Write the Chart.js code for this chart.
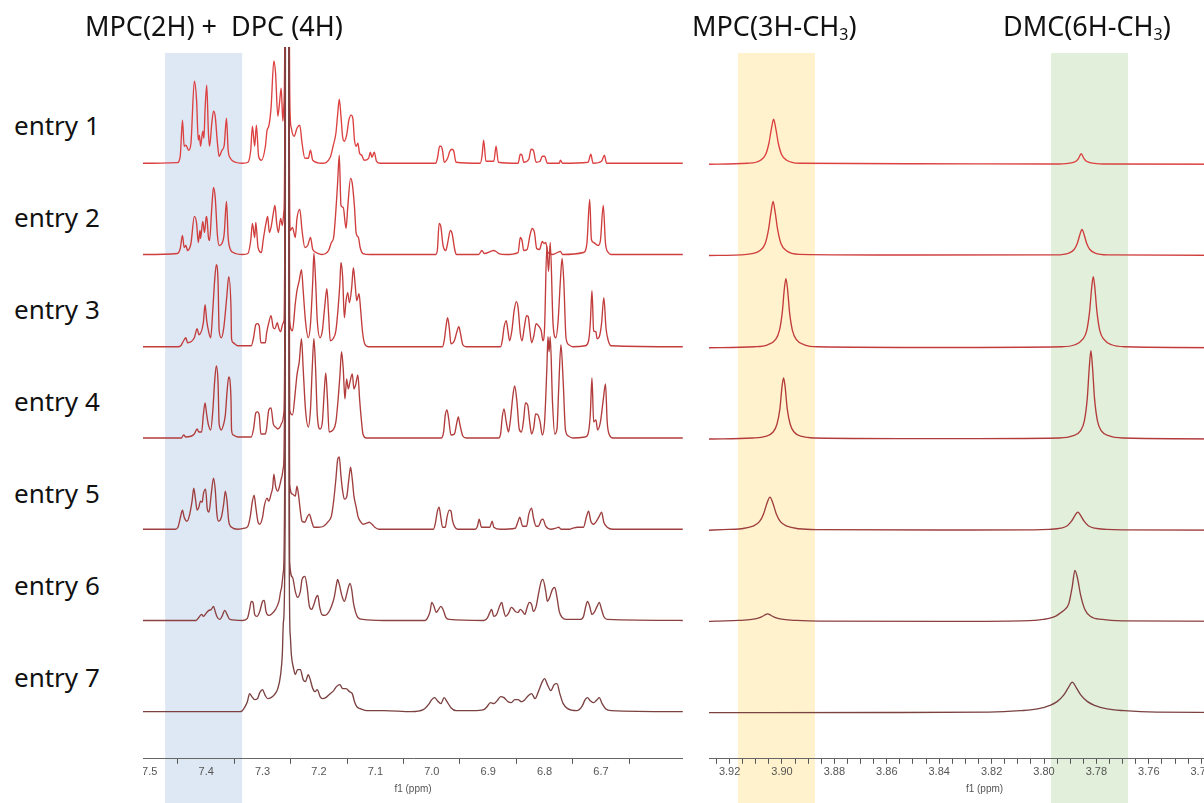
<!DOCTYPE html>
<html><head><meta charset="utf-8">
<script src="https://cdn.jsdelivr.net/npm/chart.js@4.4.1/dist/chart.umd.min.js"></script>
<style>
html,body{margin:0;padding:0;background:#fff;overflow:hidden;width:1204px;height:803px;}
.lbl{position:absolute;font-family:"Noto Sans",sans-serif;color:#111;white-space:nowrap;line-height:1;}
.ttl{font-size:27px;top:12px;}
.ent{font-size:26px;left:14px;}
.ttl sub{font-size:16px;vertical-align:-4px;line-height:0;}
#leftCanvas{position:absolute;left:143px;top:0;}
#rightCanvas{position:absolute;left:709px;top:0;}
</style></head>
<body>
<canvas id="leftCanvas" width="540" height="803"></canvas>
<canvas id="rightCanvas" width="551" height="803"></canvas>
<div class="lbl ttl" style="left:85px">MPC(2H) +&nbsp; DPC (4H)</div>
<div class="lbl ttl" style="left:692px">MPC(3H-CH<sub>3</sub>)</div>
<div class="lbl ttl" style="left:1003px">DMC(6H-CH<sub>3</sub>)</div>
<div class="lbl ent" style="top:112px">entry 1</div>
<div class="lbl ent" style="top:204px">entry 2</div>
<div class="lbl ent" style="top:296px">entry 3</div>
<div class="lbl ent" style="top:388px">entry 4</div>
<div class="lbl ent" style="top:480px">entry 5</div>
<div class="lbl ent" style="top:572px">entry 6</div>
<div class="lbl ent" style="top:664px">entry 7</div>
<script>
// ---------- DATA (ppm, intensity) ----------
const entryNames = ['entry 1','entry 2','entry 3','entry 4','entry 5','entry 6','entry 7'];

// aromatic region 7.51 - 6.55 ppm
const aromatic1 = [[7.512,0],[7.451,0.7],[7.446,7],[7.442,43],[7.439,17],[7.436,18],[7.431,13],[7.427,20],[7.421,82],[7.417,63],[7.414,23],[7.412,28],[7.410,17],[7.406,32],[7.404,25],[7.402,53],[7.399,78],[7.396,30],[7.394,17],[7.390,40],[7.387,52],[7.384,47],[7.380,20],[7.377,7],[7.372,13],[7.368,18],[7.364,45],[7.361,13],[7.357,5],[7.352,2],[7.335,0],[7.326,1],[7.321,13],[7.318,37],[7.314,17],[7.311,38],[7.307,7],[7.302,3],[7.295,17],[7.292,33],[7.289,37],[7.285,55],[7.280,102],[7.277,90],[7.273,47],[7.270,60],[7.267,75],[7.264,42],[7.262,60],[7.260,250],[7.2565,6000],[7.253,250],[7.251,47],[7.249,35],[7.244,27],[7.239,35],[7.234,38],[7.230,20],[7.225,5],[7.219,5],[7.215,13],[7.211,3],[7.195,0],[7.180,6],[7.175,17],[7.170,30],[7.167,48],[7.164,64],[7.161,47],[7.158,26],[7.155,22],[7.151,28],[7.147,43],[7.143,48],[7.140,45],[7.137,23],[7.134,17],[7.131,20],[7.128,10],[7.124,8],[7.120,3],[7.112,5],[7.109,11],[7.106,6],[7.102,11],[7.098,2],[7.091,0],[6.993,0],[6.990,5],[6.986,17],[6.984,17],[6.981,13],[6.978,1],[6.972,5],[6.968,12],[6.964,14],[6.961,12],[6.957,1],[6.914,0],[6.911,7],[6.908,23],[6.904,2],[6.890,2],[6.886,17],[6.882,1],[6.847,0],[6.843,9],[6.840,8],[6.837,1],[6.828,4],[6.824,14],[6.820,13],[6.815,1],[6.808,2],[6.804,7],[6.800,7],[6.795,0],[6.774,0],[6.772,3],[6.768,0],[6.723,1],[6.718,9],[6.714,0],[6.699,2],[6.694,8],[6.690,0],[6.555,0]];
const aromatic2 = [[7.512,0],[7.451,1],[7.446,6],[7.442,19],[7.439,7],[7.436,9],[7.433,4],[7.427,11],[7.421,38],[7.417,31],[7.414,12],[7.411,24],[7.410,16],[7.406,33],[7.403,22],[7.400,37],[7.399,38],[7.396,17],[7.394,14],[7.390,47],[7.387,67],[7.384,57],[7.380,19],[7.377,9],[7.372,11],[7.368,21],[7.364,53],[7.361,17],[7.357,5],[7.352,2],[7.335,0],[7.326,1],[7.321,14],[7.318,31],[7.314,17],[7.312,32],[7.308,7],[7.302,2],[7.299,14],[7.294,31],[7.291,38],[7.288,22],[7.285,27],[7.281,41],[7.278,49],[7.275,31],[7.272,22],[7.268,36],[7.265,29],[7.262,44],[7.260,250],[7.2565,6000],[7.253,250],[7.251,24],[7.247,27],[7.242,17],[7.239,36],[7.234,45],[7.230,24],[7.225,7],[7.220,9],[7.215,17],[7.211,5],[7.201,1],[7.195,0],[7.183,4],[7.178,12],[7.174,17],[7.170,44],[7.167,71],[7.164,99],[7.161,49],[7.157,47],[7.152,26],[7.149,47],[7.144,76],[7.141,71],[7.137,47],[7.134,21],[7.130,17],[7.127,7],[7.122,1],[7.110,0],[6.993,0],[6.990,5],[6.987,31],[6.984,28],[6.980,9],[6.975,4],[6.972,11],[6.967,24],[6.964,21],[6.959,4],[6.956,0],[6.917,0],[6.911,4],[6.907,1],[6.890,4],[6.886,3],[6.881,1],[6.869,0],[6.847,2],[6.843,17],[6.840,14],[6.837,4],[6.831,5],[6.826,19],[6.822,26],[6.818,22],[6.814,6],[6.809,5],[6.804,13],[6.801,11],[6.798,12],[6.794,2],[6.786,0],[6.772,3],[6.768,0],[6.731,2],[6.725,11],[6.720,55],[6.717,15],[6.713,12],[6.705,9],[6.701,14],[6.696,49],[6.692,11],[6.687,2],[6.682,0],[6.555,0]];
const aromatic3 = [[7.512,0],[7.450,0],[7.445,1],[7.440,6],[7.436,9],[7.433,4],[7.421,9],[7.416,18],[7.413,12],[7.405,24],[7.402,42],[7.399,26],[7.396,16],[7.392,9],[7.388,39],[7.385,66],[7.382,82],[7.379,66],[7.377,16],[7.373,9],[7.369,18],[7.366,34],[7.363,53],[7.360,70],[7.356,39],[7.355,8],[7.352,4],[7.344,1],[7.320,1],[7.316,9],[7.312,22],[7.309,23],[7.306,21],[7.303,4],[7.295,4],[7.293,13],[7.289,24],[7.285,31],[7.281,19],[7.278,18],[7.274,24],[7.271,18],[7.268,15],[7.264,23],[7.262,26],[7.260,250],[7.2565,6000],[7.253,250],[7.252,26],[7.247,16],[7.242,43],[7.239,56],[7.235,66],[7.231,77],[7.228,56],[7.224,26],[7.219,9],[7.215,23],[7.211,66],[7.209,93],[7.206,66],[7.203,26],[7.198,9],[7.194,16],[7.190,39],[7.186,58],[7.183,33],[7.180,6],[7.175,8],[7.170,16],[7.166,39],[7.163,63],[7.161,84],[7.158,69],[7.155,29],[7.152,46],[7.149,54],[7.146,44],[7.142,59],[7.139,79],[7.136,63],[7.133,46],[7.129,53],[7.126,36],[7.123,16],[7.119,3],[7.112,0],[6.981,0],[6.978,6],[6.975,19],[6.972,29],[6.969,19],[6.966,3],[6.960,6],[6.956,14],[6.952,20],[6.949,13],[6.945,2],[6.939,0],[6.878,0],[6.875,6],[6.872,19],[6.868,26],[6.865,16],[6.862,6],[6.858,16],[6.854,36],[6.850,45],[6.847,39],[6.843,13],[6.840,6],[6.836,19],[6.832,31],[6.829,30],[6.826,16],[6.823,4],[6.819,11],[6.815,23],[6.811,21],[6.806,16],[6.803,6],[6.800,19],[6.796,100],[6.793,75],[6.790,104],[6.785,23],[6.780,9],[6.776,26],[6.772,66],[6.769,88],[6.766,66],[6.762,9],[6.757,2],[6.750,0],[6.728,1],[6.722,6],[6.719,23],[6.716,56],[6.713,16],[6.709,15],[6.707,8],[6.703,10],[6.699,23],[6.695,49],[6.691,18],[6.687,6],[6.682,1],[6.555,0]];
const aromatic4 = [[7.512,0],[7.444,0],[7.440,3],[7.436,1],[7.421,4],[7.416,9],[7.413,6],[7.408,6],[7.405,23],[7.402,35],[7.399,23],[7.396,13],[7.392,8],[7.388,29],[7.385,56],[7.382,72],[7.379,56],[7.377,14],[7.373,8],[7.369,14],[7.366,23],[7.363,46],[7.360,61],[7.356,39],[7.355,8],[7.352,3],[7.344,1],[7.320,1],[7.316,9],[7.312,25],[7.309,26],[7.306,23],[7.303,4],[7.295,4],[7.293,9],[7.289,28],[7.285,30],[7.281,14],[7.277,11],[7.273,9],[7.269,11],[7.265,16],[7.262,26],[7.260,250],[7.2565,6000],[7.253,250],[7.252,28],[7.247,23],[7.242,46],[7.239,63],[7.235,76],[7.231,99],[7.228,69],[7.224,29],[7.219,11],[7.215,29],[7.212,69],[7.209,99],[7.206,69],[7.203,23],[7.198,9],[7.194,16],[7.191,43],[7.188,65],[7.185,39],[7.182,6],[7.175,8],[7.170,16],[7.166,39],[7.163,61],[7.160,86],[7.157,69],[7.154,39],[7.151,59],[7.148,49],[7.145,56],[7.141,64],[7.138,49],[7.135,53],[7.131,63],[7.128,39],[7.125,19],[7.122,4],[7.116,0],[6.983,0],[6.979,6],[6.976,23],[6.973,28],[6.970,19],[6.966,3],[6.960,4],[6.956,14],[6.953,21],[6.950,13],[6.945,2],[6.939,0],[6.881,0],[6.878,4],[6.875,21],[6.872,29],[6.868,16],[6.864,6],[6.861,16],[6.856,43],[6.853,52],[6.849,36],[6.845,9],[6.841,6],[6.837,19],[6.834,35],[6.830,33],[6.826,14],[6.823,4],[6.819,11],[6.816,24],[6.812,23],[6.808,16],[6.804,3],[6.800,16],[6.796,69],[6.794,101],[6.792,86],[6.790,101],[6.786,36],[6.782,4],[6.778,9],[6.775,49],[6.771,93],[6.767,56],[6.763,8],[6.758,2],[6.750,0],[6.728,1],[6.723,4],[6.719,23],[6.716,60],[6.713,16],[6.709,18],[6.706,8],[6.701,16],[6.696,38],[6.692,54],[6.689,16],[6.685,3],[6.679,0],[6.555,0]];
const aromatic5 = [[7.512,0],[7.455,0],[7.450,2],[7.446,11],[7.442,19],[7.439,12],[7.434,8],[7.430,13],[7.425,28],[7.422,41],[7.419,30],[7.416,19],[7.413,22],[7.410,28],[7.407,27],[7.405,35],[7.401,40],[7.398,20],[7.395,17],[7.391,35],[7.387,51],[7.384,40],[7.381,15],[7.378,8],[7.373,12],[7.369,25],[7.366,38],[7.363,28],[7.360,8],[7.355,2],[7.344,0],[7.332,1],[7.326,3],[7.322,12],[7.318,28],[7.315,34],[7.312,22],[7.308,7],[7.305,5],[7.300,12],[7.297,23],[7.292,31],[7.289,28],[7.285,35],[7.282,42],[7.280,55],[7.277,43],[7.273,38],[7.269,45],[7.266,52],[7.263,62],[7.260,250],[7.2565,6000],[7.253,250],[7.252,45],[7.247,35],[7.242,33],[7.239,43],[7.236,33],[7.233,18],[7.230,8],[7.225,7],[7.221,12],[7.217,15],[7.213,8],[7.209,2],[7.201,2],[7.192,3],[7.183,8],[7.178,13],[7.174,28],[7.170,50],[7.167,69],[7.164,72],[7.161,53],[7.158,38],[7.155,30],[7.151,32],[7.147,50],[7.144,62],[7.141,50],[7.138,33],[7.134,22],[7.131,13],[7.127,8],[7.122,5],[7.116,6],[7.111,7],[7.106,5],[7.101,2],[7.094,0],[6.997,0],[6.994,5],[6.990,18],[6.987,22],[6.984,12],[6.981,2],[6.976,2],[6.973,12],[6.969,19],[6.966,18],[6.963,8],[6.959,2],[6.954,0],[6.923,0],[6.919,3],[6.916,10],[6.912,2],[6.897,2],[6.893,8],[6.890,2],[6.878,0],[6.852,1],[6.847,8],[6.844,12],[6.839,3],[6.832,3],[6.828,15],[6.823,21],[6.820,12],[6.815,3],[6.811,3],[6.806,9],[6.803,10],[6.798,3],[6.789,0],[6.780,1],[6.775,2],[6.771,0],[6.756,0],[6.750,1],[6.742,2],[6.731,2],[6.726,12],[6.722,18],[6.718,8],[6.713,5],[6.708,8],[6.703,13],[6.699,17],[6.695,7],[6.689,2],[6.679,0],[6.555,0]];
const aromatic6 = [[7.512,0],[7.418,0],[7.413,3],[7.408,6],[7.405,4],[7.399,8],[7.395,10],[7.391,11],[7.387,14],[7.384,9],[7.381,4],[7.376,1],[7.372,4],[7.367,10],[7.363,6],[7.358,1],[7.335,0],[7.327,2],[7.323,11],[7.320,19],[7.317,18],[7.314,6],[7.310,4],[7.305,9],[7.300,19],[7.297,20],[7.294,9],[7.289,5],[7.283,7],[7.277,11],[7.271,19],[7.267,31],[7.263,49],[7.260,250],[7.2565,6000],[7.253,250],[7.252,59],[7.247,43],[7.242,29],[7.238,23],[7.233,29],[7.230,41],[7.225,44],[7.221,33],[7.217,14],[7.213,11],[7.209,16],[7.205,23],[7.202,25],[7.199,14],[7.195,6],[7.189,5],[7.183,8],[7.178,14],[7.173,23],[7.169,36],[7.167,41],[7.164,36],[7.159,24],[7.155,19],[7.151,26],[7.148,33],[7.145,37],[7.142,31],[7.139,18],[7.135,8],[7.131,3],[7.122,1],[7.085,0],[7.012,0],[7.008,2],[7.003,9],[7.000,18],[6.996,14],[6.992,8],[6.989,10],[6.984,14],[6.980,11],[6.975,3],[6.969,1],[6.908,0],[6.902,2],[6.897,8],[6.894,11],[6.890,4],[6.885,6],[6.880,14],[6.876,18],[6.873,11],[6.869,4],[6.864,7],[6.859,13],[6.856,12],[6.852,9],[6.847,8],[6.843,11],[6.839,9],[6.835,6],[6.831,13],[6.827,18],[6.823,16],[6.820,9],[6.815,14],[6.811,26],[6.806,39],[6.803,41],[6.798,29],[6.795,19],[6.791,23],[6.786,31],[6.782,33],[6.778,23],[6.774,9],[6.769,3],[6.762,1],[6.737,1],[6.731,4],[6.727,14],[6.724,19],[6.720,14],[6.716,6],[6.712,8],[6.707,14],[6.703,18],[6.699,11],[6.695,4],[6.689,1],[6.555,0]];
const aromatic7 = [[7.512,0],[7.340,0],[7.336,1],[7.332,4],[7.327,10],[7.323,18],[7.319,15],[7.314,12],[7.309,13],[7.305,19],[7.300,22],[7.296,17],[7.291,13],[7.285,14],[7.279,17],[7.273,23],[7.268,37],[7.265,57],[7.263,90],[7.260,190],[7.2565,6000],[7.253,190],[7.251,77],[7.249,57],[7.245,43],[7.242,37],[7.238,42],[7.233,42],[7.228,32],[7.224,30],[7.219,37],[7.216,33],[7.211,23],[7.207,20],[7.203,22],[7.198,15],[7.194,13],[7.188,14],[7.180,18],[7.174,21],[7.169,25],[7.163,27],[7.158,23],[7.152,23],[7.146,20],[7.141,18],[7.137,10],[7.133,5],[7.127,3],[7.116,1],[7.085,1],[7.036,0],[7.015,2],[7.006,7],[7.000,12],[6.995,14],[6.990,11],[6.984,8],[6.978,14],[6.973,10],[6.966,4],[6.957,1],[6.927,1],[6.908,2],[6.902,5],[6.896,9],[6.890,8],[6.884,11],[6.878,15],[6.872,14],[6.865,10],[6.859,9],[6.853,12],[6.847,12],[6.841,10],[6.835,12],[6.829,16],[6.823,18],[6.817,13],[6.811,20],[6.804,30],[6.800,33],[6.795,27],[6.789,21],[6.783,27],[6.778,28],[6.773,18],[6.767,8],[6.759,3],[6.743,1],[6.734,5],[6.728,12],[6.724,14],[6.719,11],[6.713,9],[6.707,12],[6.703,14],[6.698,8],[6.692,3],[6.682,1],[6.555,0]];

// methoxy region 3.93 - 3.72 ppm
const methyl1 = [[3.928,0],[3.9132,1],[3.9082,4],[3.9062,10],[3.9050,21],[3.9040,36],[3.9032,45],[3.9024,36],[3.9014,21],[3.9002,10],[3.8982,4],[3.8932,1],[3.8500,0.5],[3.7958,0.3],[3.7908,1],[3.7878,3],[3.7868,6],[3.7858,10.5],[3.7848,6],[3.7838,3],[3.7808,1],[3.7758,0.3],[3.717,0]];
const methyl2 = [[3.928,0],[3.9134,1.2],[3.9084,5],[3.9064,12],[3.9052,25],[3.9042,43],[3.9034,54],[3.9026,43],[3.9016,25],[3.9004,12],[3.8984,5],[3.8934,1.2],[3.8500,0.5],[3.7955,0.7],[3.7905,2.5],[3.7885,6],[3.7873,12],[3.7863,21],[3.7855,26],[3.7847,21],[3.7837,12],[3.7825,6],[3.7805,2.5],[3.7755,0.7],[3.717,0]];
const methyl3 = [[3.928,0],[3.9105,1],[3.9055,3],[3.9025,8],[3.9010,17],[3.8999,35],[3.8991,59],[3.8985,69],[3.8979,59],[3.8971,35],[3.8960,17],[3.8945,8],[3.8915,3],[3.8865,1],[3.8400,0.3],[3.7932,1],[3.7882,3],[3.7852,8.5],[3.7837,17],[3.7826,36],[3.7818,60],[3.7812,71],[3.7806,60],[3.7798,36],[3.7787,17],[3.7772,8.5],[3.7742,3],[3.7692,1],[3.717,0]];
const methyl4 = [[3.928,0],[3.9114,1],[3.9064,2.5],[3.9034,7],[3.9019,15],[3.9008,30],[3.9000,52],[3.8994,61],[3.8988,52],[3.8980,30],[3.8969,15],[3.8954,7],[3.8924,2.5],[3.8874,1],[3.8400,0.3],[3.7941,1],[3.7891,3],[3.7861,8],[3.7846,18],[3.7835,40],[3.7827,72],[3.7821,88],[3.7815,72],[3.7807,40],[3.7796,18],[3.7781,8],[3.7751,3],[3.7701,1],[3.717,0]];
const methyl5 = [[3.928,0],[3.9226,0.6],[3.9156,1.5],[3.9111,4],[3.9086,8.5],[3.9070,16.5],[3.9056,28],[3.9046,33],[3.9036,28],[3.9022,16.5],[3.9006,8.5],[3.8981,4],[3.8936,1.5],[3.8866,0.6],[3.8400,0.2],[3.8041,0.3],[3.7981,0.8],[3.7936,2],[3.7911,4.5],[3.7895,9],[3.7881,15],[3.7871,18],[3.7861,15],[3.7847,9],[3.7831,4.5],[3.7806,2],[3.7761,0.8],[3.7701,0.3],[3.717,0]];
const methyl6 = [[3.928,0],[3.9255,0.3],[3.9165,1],[3.9115,2],[3.9085,3.8],[3.9067,6.2],[3.9055,7.6],[3.9043,6.2],[3.9025,3.8],[3.8995,2],[3.8945,1],[3.8855,0.3],[3.8400,0.1],[3.8082,0.6],[3.8002,2],[3.7957,5],[3.7935,9],[3.7920,12],[3.7905,18],[3.7892,35],[3.7882,51],[3.7872,43],[3.7860,26],[3.7844,12],[3.7822,5],[3.7777,2],[3.7702,0.6],[3.717,0]];
const methyl7 = [[3.928,0],[3.8600,0.2],[3.8210,0.5],[3.8090,2],[3.8020,4],[3.7980,7],[3.7950,11],[3.7925,17.5],[3.7907,25],[3.7892,30.5],[3.7877,25],[3.7859,17.5],[3.7834,11],[3.7804,7],[3.7764,4],[3.7694,2],[3.7570,0.5],[3.717,0]];

// axis ticks
const leftMajorTicks = [7.5,7.4,7.3,7.2,7.1,7.0,6.9,6.8,6.7];
const leftMajorLabels = ['7.5','7.4','7.3','7.2','7.1','7.0','6.9','6.8','6.7'];
const leftMinorTicks = [7.45,7.35,7.25,7.15,7.05,6.95,6.85,6.75,6.65];
const rightMajorTicks = [3.92,3.90,3.88,3.86,3.84,3.82,3.80,3.78,3.76,3.74,3.72];
const rightMajorLabels = ['3.92','3.90','3.88','3.86','3.84','3.82','3.80','3.78','3.76','3.74','3.72'];
const rightMinorTicks = [3.925,3.915,3.91,3.905,3.895,3.89,3.885,3.875,3.87,3.865,3.855,3.85,3.845,3.835,3.83,3.825,3.815,3.81,3.805,3.795,3.79,3.785,3.775,3.77,3.765,3.755,3.75,3.745,3.735,3.73,3.725];

// highlighted ranges (ppm)
const leftBands = [[7.4727,7.3362]];
const rightBands = [[3.9168,3.8874],[3.7973,3.7679]];

// ---------- LAYOUT / STYLE ----------
const layoutCfg = {
  plotTop: 47, plotBottom: 757, bandTop: 53,
  leftBaselines: [163,254,346,437,528,619,710],
  rightBaselines: [164,255,347,438,529,620,711],
  colors: ['#dc4040','#d03d3d','#c23c3c','#b23c3c','#9f3e3e','#8c4040','#7b4242'],
  leftBandColors: ['#dde8f4'],
  rightBandColors: ['#fff2cc','#e2efda']
};

const bandPlugin = {
  id: 'bands',
  beforeDraw(chart, args, opts) {
    const ctx = chart.ctx, xs = chart.scales.x;
    (opts.ranges || []).forEach((r, i) => {
      const a = xs.getPixelForValue(r[0]), b = xs.getPixelForValue(r[1]);
      ctx.save();
      ctx.fillStyle = opts.colors[i];
      ctx.fillRect(Math.min(a,b), layoutCfg.bandTop, Math.abs(b-a), chart.height - layoutCfg.bandTop);
      ctx.restore();
    });
  }
};

function makeTicks(major, labels, minor) {
  const t = major.map((v,i)=>({value:v, txt:labels[i], minor:false}))
    .concat(minor.map(v=>({value:v, txt:'', minor:true})));
  t.sort((a,b)=>a.value-b.value);
  return t;
}

function buildChart(canvasId, series, baselines, xmin, xmax, majors, majorLabels, minors, showMajorMarks, bands, bandColors) {
  const plotH = layoutCfg.plotBottom - layoutCfg.plotTop;
  const datasets = series.map((arr, i) => ({
    label: entryNames[i],
    data: arr.map(p => ({x: p[0], y: p[1] + (layoutCfg.plotBottom - baselines[i])})),
    borderColor: layoutCfg.colors[i],
    borderWidth: 1.35,
    pointRadius: 0,
    tension: 0,
    cubicInterpolationMode: 'monotone',
    order: series.length - 1 - i,
    fill: false
  }));
  const tickObjs = makeTicks(majors, majorLabels, minors);
  return new Chart(document.getElementById(canvasId), {
    type: 'line',
    data: { datasets },
    plugins: [bandPlugin],
    options: {
      responsive: false,
      animation: false,
      devicePixelRatio: 1,
      layout: { autoPadding: false, padding: { top: layoutCfg.plotTop, bottom: 7, left: 0, right: 0 } },
      plugins: {
        legend: { display: false },
        tooltip: { enabled: false },
        bands: { ranges: bands, colors: bandColors }
      },
      scales: {
        x: {
          type: 'linear',
          reverse: true,
          min: xmin, max: xmax,
          afterBuildTicks: (scale) => { scale.ticks = tickObjs.map(t => ({...t})); },
          ticks: {
            autoSkip: false, maxRotation: 0, padding: 2,
            color: '#555',
            font: { family: '"Liberation Sans", Arial, sans-serif', size: 11 },
            callback: (v, i, ticks) => ticks[i].txt
          },
          grid: {
            drawOnChartArea: false, drawTicks: true, tickLength: 5,
            tickColor: (ctx) => (ctx.tick && (ctx.tick.minor || showMajorMarks)) ? '#555' : 'rgba(0,0,0,0)'
          },
          border: { display: true, color: '#666', width: 1 },
          title: {
            display: true, text: 'f1 (ppm)', color: '#555',
            font: { family: '"Liberation Sans", Arial, sans-serif', size: 10 },
            padding: { top: 2, bottom: 1 }
          }
        },
        y: { display: false, min: 0, max: plotH }
      }
    }
  });
}

buildChart('leftCanvas',
  [aromatic1,aromatic2,aromatic3,aromatic4,aromatic5,aromatic6,aromatic7],
  layoutCfg.leftBaselines, 6.5546, 7.512,
  leftMajorTicks, leftMajorLabels, leftMinorTicks, false, leftBands, layoutCfg.leftBandColors);

buildChart('rightCanvas',
  [methyl1,methyl2,methyl3,methyl4,methyl5,methyl6,methyl7],
  layoutCfg.rightBaselines, 3.71756, 3.92786,
  rightMajorTicks, rightMajorLabels, rightMinorTicks, true, rightBands, layoutCfg.rightBandColors);
</script>
</body></html>
